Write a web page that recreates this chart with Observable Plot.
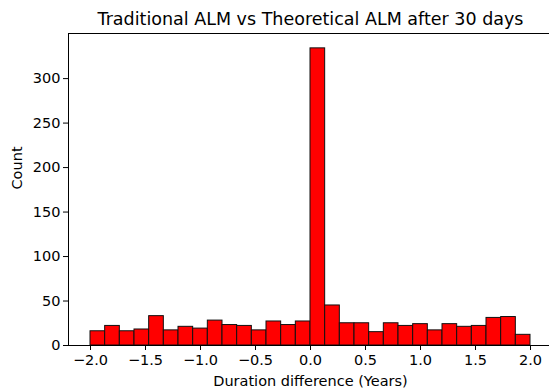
<!DOCTYPE html>
<html>
<head>
<meta charset="utf-8">
<script src="https://cdn.jsdelivr.net/npm/d3@7"></script>
<script src="https://cdn.jsdelivr.net/npm/@observablehq/plot@0.6"></script>
<style>
  html, body { margin: 0; padding: 0; background: #fff; overflow: hidden; }
  svg { display: block; max-width: none !important; }
</style>
</head>
<body>
<div id="chart"></div>
<script>
const title = "Traditional ALM vs Theoretical ALM after 30 days";
const xLabel = "Duration difference (Years)";
const yLabel = "Count";
const binLow = -2.0;
const binHigh = 2.0;
const binCount = 30;
const counts = [16, 22, 16, 18, 33, 17, 21, 19, 28, 23, 22, 17, 27, 23, 27,
                334, 45, 25, 25, 15, 25, 22, 24, 17, 24, 21, 22, 31, 32, 12];
const xTicks = [-2.0, -1.5, -1.0, -0.5, 0.0, 0.5, 1.0, 1.5, 2.0];
const yTicks = [0, 50, 100, 150, 200, 250, 300];

const step = (binHigh - binLow) / binCount;
const bins = counts.map((c, i) => ({x1: binLow + i * step, x2: binLow + (i + 1) * step, count: c}));

const plot = Plot.plot({
  width: 552,
  height: 389,
  marginLeft: 68,
  marginRight: 0,
  marginTop: 33,
  marginBottom: 44,
  style: {fontFamily: "DejaVu Sans", fontSize: "14.5px", color: "#000", background: "#fff", maxWidth: "none"},
  x: {domain: [-2.2, 2.2], ticks: xTicks, tickFormat: d3.format(".1f")},
  y: {domain: [0, 350.7], ticks: yTicks},
  marks: [
    Plot.rectY(bins, {x1: "x1", x2: "x2", y: "count", fill: "#ff0000", stroke: "#111", strokeWidth: 1, inset: 0}),
    Plot.frame({stroke: "#000", strokeWidth: 1}),
    Plot.axisX({ticks: xTicks, tickFormat: d3.format(".1f"), tickSize: 5, tickPadding: 4, fontSize: 14.5, label: null}),
    Plot.axisY({ticks: yTicks, tickSize: 5, tickPadding: 3, fontSize: 14.5, label: null}),
    Plot.text([xLabel], {frameAnchor: "bottom", dy: 36, text: d => d, fontSize: 14.5, lineAnchor: "middle"}),
    Plot.text([yLabel], {frameAnchor: "left", dx: -51, rotate: -90, text: d => d, fontSize: 14.5}),
    Plot.text([title], {frameAnchor: "top", dy: -14, text: d => d, fontSize: 17.5, lineAnchor: "middle"})
  ]
});
document.getElementById("chart").appendChild(plot);
</script>
</body>
</html>
